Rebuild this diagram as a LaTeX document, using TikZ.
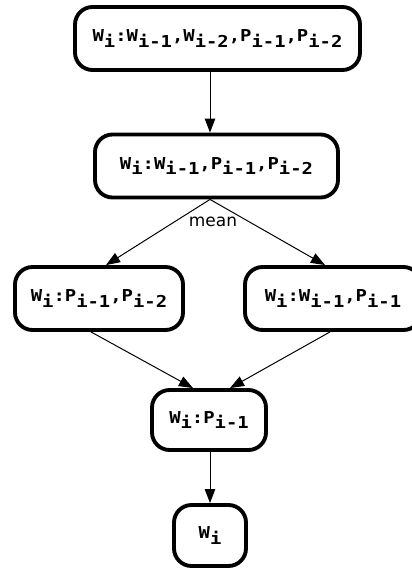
\documentclass[tikz,border=0pt]{standalone}
\usepackage{fontspec}
\newfontfamily\boxfont{DejaVu Sans Mono}[FakeStretch=1.15]
\newfontfamily\labelfont{DejaVu Sans}
\usetikzlibrary{arrows.meta,calc}
\newcommand{\lowidx}[1]{\raisebox{-5pt}{#1}}
\tikzstyle{wbox}=[
    draw, line width=3.3pt,
    rounded corners=15pt,
    minimum height=1.89cm,
    inner sep=0pt,
    font=\boxfont\bfseries\fontsize{14}{16}\selectfont,
]
\tikzstyle{wedge}=[
    line width=0.85pt,
    ->, >={Triangle[length=12pt,width=9pt]},
]

\begin{document}
\begin{tikzpicture}[x=0.03cm, y=-0.03cm]
        \useasboundingbox (0,0) rectangle (411,570);
        \node[wbox, minimum width=8.55cm] (all) at (217.5, 38.5) {W\lowidx{i}:W\lowidx{i-1},W\lowidx{i-2},P\lowidx{i-1},P\lowidx{i-2}};
        \node[wbox, minimum width=7.29cm] (wpp) at (216.5, 166) {W\lowidx{i}:W\lowidx{i-1},P\lowidx{i-1},P\lowidx{i-2}};
        \node[wbox, minimum width=5.04cm] (pp) at (99, 298.5) {W\lowidx{i}:P\lowidx{i-1},P\lowidx{i-2}};
        \node[wbox, minimum width=5.28cm] (wp) at (333, 298.5) {W\lowidx{i}:W\lowidx{i-1},P\lowidx{i-1}};
        \node[wbox, minimum width=3.42cm, minimum height=1.8cm] (p) at (209, 420) {W\lowidx{i}:P\lowidx{i-1}};
        \node[wbox, minimum width=2.16cm, minimum height=1.83cm] (w) at (210, 535.5) {W\lowidx{i}};
        \node[font=\labelfont\fontsize{14.5}{17}\selectfont, inner sep=0pt] (mean) at (213, 222) {mean};
        \draw[wedge] ($(all.south)+(-7.5,0)$) -- ($(wpp.north)+(-6.5,0)$);
        \draw[wedge] ($(wpp.south)+(-6.5,0)$) -- ($(pp.north)+(7,0)$);
        \draw[wedge] ($(wpp.south)+(-6.5,0)$) -- ($(wp.north)+(-8,0)$);
        \draw[wedge] ($(pp.south)+(-8,0)$) -- ($(p.north)+(-16,0)$);
        \draw[wedge] ($(wp.south)+(-3,0)$) -- ($(p.north)+(21,0)$);
        \draw[wedge] ($(p.south)+(1,0)$) -- (w.north);
    \end{tikzpicture}
\end{document}
